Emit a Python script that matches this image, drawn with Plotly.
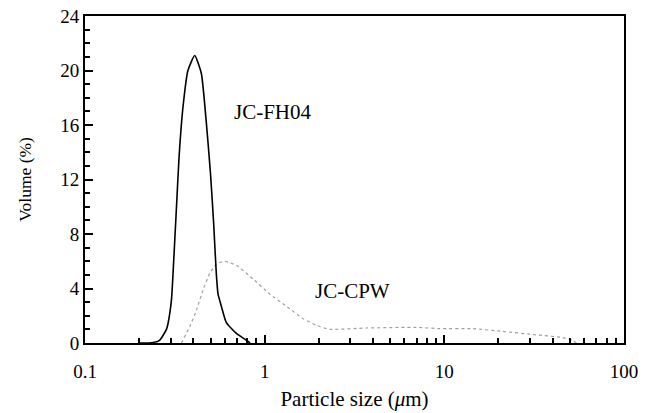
import plotly.graph_objects as go

# Particle size distribution data
fh04_size = [0.20, 0.229, 0.26, 0.284, 0.29, 0.303, 0.309, 0.323, 0.334, 0.351, 0.374,
             0.408, 0.444, 0.474, 0.499, 0.52, 0.538, 0.55, 0.574, 0.612, 0.696, 0.791, 0.83]
fh04_vol = [0, 0, 0.2, 1.0, 1.45, 3.2, 5.1, 10.0, 13.7, 17.3, 20.0,
            21.1, 19.8, 16.1, 12.5, 8.8, 5.1, 3.6, 2.7, 1.5, 0.7, 0.2, 0]

cpw_size = [0.344, 0.383, 0.417, 0.454, 0.494, 0.538, 0.599, 0.696, 0.861, 1.066, 1.32,
            1.63, 1.94, 2.30, 3.68, 6.98, 9.42, 14.4, 21.1, 32.5, 45.5, 51.7, 54.2]
cpw_vol = [0, 1.2, 2.4, 3.9, 5.1, 5.8, 6.0, 5.7, 4.7, 3.6, 2.7,
           1.8, 1.3, 1.0, 1.1, 1.15, 1.05, 1.05, 0.85, 0.6, 0.4, 0.2, 0]

x_ticks = [0.1, 1, 10, 100]
x_ticktext = ["0.1", "1", "10", "100"]
x_minor = [m * d for d in (0.1, 1, 10) for m in range(2, 10)]
y_ticks = [0, 4, 8, 12, 16, 20, 24]
y_minor = [v for v in range(0, 25) if v % 4]

FONT = "Liberation Serif"

fig = go.Figure()
fig.add_trace(go.Scatter(x=cpw_size, y=cpw_vol, mode="lines",
                         line=dict(color="#a0a0a0", width=1.2, dash="dot",
                                   shape="spline", smoothing=0.4),
                         showlegend=False))
fig.add_trace(go.Scatter(x=fh04_size, y=fh04_vol, mode="lines",
                         line=dict(color="black", width=1.6,
                                   shape="spline", smoothing=0.5),
                         showlegend=False))

fig.add_annotation(x=-0.18, y=16.95, xref="x", yref="y", text="JC-FH04",
                   showarrow=False, xanchor="left", yanchor="middle",
                   font=dict(family=FONT, size=21, color="black"))
fig.add_annotation(x=0.268, y=3.8, xref="x", yref="y", text="JC-CPW",
                   showarrow=False, xanchor="left", yanchor="middle",
                   font=dict(family=FONT, size=21, color="black"))

fig.add_trace(go.Scatter(x=[0.1, 100], y=[0, 24], xaxis="x2", yaxis="y2",
                         mode="markers", marker=dict(opacity=0),
                         hoverinfo="skip", showlegend=False))

fig.update_layout(
    font=dict(family=FONT),
    xaxis=dict(type="log", range=[-1, 2], tickvals=x_ticks, ticktext=x_ticktext,
               ticks="inside", ticklen=8, tickwidth=2, tickcolor="black",
               showline=True, linecolor="black", linewidth=2, mirror=True,
               showgrid=False, zeroline=False, ticklabelstandoff=10,
               automargin=False,
               tickfont=dict(family=FONT, size=19, color="black"),
               title=dict(text="Particle size (<i>μ</i>m)",
                          font=dict(family=FONT, size=21, color="black"),
                          standoff=11)),
    yaxis=dict(range=[0, 24], tickvals=y_ticks,
               ticks="inside", ticklen=8, tickwidth=2, tickcolor="black",
               showline=True, linecolor="black", linewidth=2, mirror=True,
               showgrid=False, zeroline=False, automargin=False,
               tickfont=dict(family=FONT, size=19, color="black"),
               title=dict(text="Volume (%)",
                          font=dict(family=FONT, size=17.5, color="black"),
                          standoff=24)),
    xaxis2=dict(type="log", range=[-1, 2], overlaying="x", side="bottom",
                tickvals=x_minor, showticklabels=False, automargin=False,
                ticks="inside", ticklen=5, tickwidth=1.5, tickcolor="black",
                showline=False, showgrid=False, zeroline=False),
    yaxis2=dict(range=[0, 24], overlaying="y", side="left",
                tickvals=y_minor, showticklabels=False, automargin=False,
                ticks="inside", ticklen=5, tickwidth=1.5, tickcolor="black",
                showline=False, showgrid=False, zeroline=False),
    width=655, height=413,
    margin=dict(l=85, r=31, t=16, b=70),
    plot_bgcolor="white", paper_bgcolor="white")

fig.write_html("out.html")
